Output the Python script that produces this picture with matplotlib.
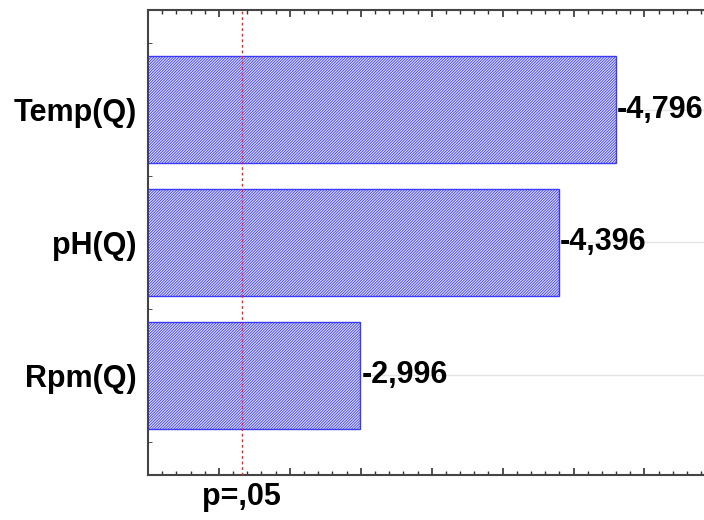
import matplotlib.pyplot as plt
from matplotlib.ticker import MultipleLocator, NullFormatter

# Standardized effect estimates (absolute value)
factors = ['Rpm(Q)', 'pH(Q)', 'Temp(Q)']
effects = [2.996, 4.396, 4.796]
effect_labels = ['-2,996', '-4,396', '-4,796']
t_crit = 2.16  # p = .05

plt.rcParams['font.family'] = ['Liberation Sans', 'DejaVu Sans']
plt.rcParams['hatch.linewidth'] = 0.6
plt.rcParams['hatch.color'] = '#6a6aff'

fig = plt.figure(figsize=(7.04, 5.2), dpi=100)
ax = fig.add_axes([0.2102, 0.0865, 0.806, 0.8945])

y = range(len(factors))
ax.barh(y, effects, height=0.8, left=0, color='#e2e2ff', edgecolor='#3a3aff',
        hatch='////////////', linewidth=1.0, zorder=2)
ax.axvline(t_crit, color='#ff2020', linestyle=(0, (2, 2)), linewidth=1.0, zorder=3)

for yi, val, lab in zip(y, effects, effect_labels):
    ax.text(val + 0.01, yi, lab, ha='left', va='center', fontsize=22,
            fontweight='bold', zorder=4)

ax.text(t_crit, -0.047, 'p=,05', transform=ax.get_xaxis_transform(),
        ha='center', va='center', fontsize=22, fontweight='bold')

ax.set_xlim(1.5, 5.5)
ax.set_ylim(-0.75, 2.75)
ax.set_yticks(list(y))
ax.set_yticklabels(factors, fontsize=22, fontweight='bold')
ax.yaxis.set_minor_locator(MultipleLocator(0.25))
ax.xaxis.set_major_locator(MultipleLocator(0.5))
ax.xaxis.set_minor_locator(MultipleLocator(0.1))
ax.xaxis.set_major_formatter(NullFormatter())

ax.tick_params(axis='x', which='both', direction='in', top=True, bottom=True,
               color='#333333')
ax.tick_params(axis='x', which='major', length=5, width=1.2)
ax.tick_params(axis='x', which='minor', length=3, width=1.0)
ax.tick_params(axis='y', which='major', direction='in', length=0, pad=8)
ax.tick_params(axis='y', which='minor', direction='in', length=3, color='#333333')

ax.grid(axis='y', which='major', color='#e4e4e4', linewidth=1.0, zorder=0)
ax.set_axisbelow(True)

for side in ['left', 'top', 'bottom']:
    ax.spines[side].set_color('#444444')
    ax.spines[side].set_linewidth(1.5)
ax.spines['right'].set_visible(False)

fig.savefig('out.png', dpi=100)
